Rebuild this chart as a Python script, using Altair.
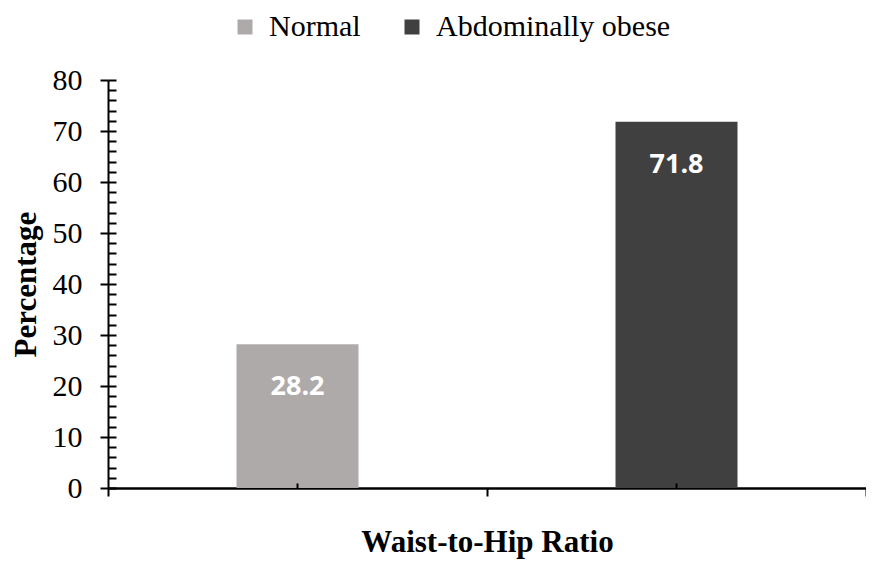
import altair as alt
import pandas as pd

categories = ["Normal", "Abdominally obese"]
values = [28.2, 71.8]
colors = ["#AEAAAA", "#404040"]
y_major = [0, 10, 20, 30, 40, 50, 60, 70, 80]
y_minor = list(range(0, 81, 2))

df = pd.DataFrame({"group": categories, "pct": values, "label": [f"{v:.1f}" for v in values]})

serif = "Liberation Serif"

x_scale = alt.Scale(domain=categories, paddingInner=0, paddingOuter=0)
y_scale = alt.Scale(domain=[0, 80], nice=False, zero=True)

bars = alt.Chart(df).mark_bar(size=122).encode(
    x=alt.X("group:N", scale=x_scale, sort=categories,
            axis=alt.Axis(title="Waist-to-Hip Ratio", orient="bottom", labels=False,
                          tickBand="extent",
                          tickSize=8, tickWidth=2, tickColor="black",
                          domainColor="black", domainWidth=2.5,
                          titleFont=serif, titleFontSize=31, titleFontWeight="bold",
                          titleColor="black", titlePadding=30)),
    y=alt.Y("pct:Q", scale=y_scale,
            axis=alt.Axis(title="Percentage", orient="left", values=y_major, tickSize=8,
                          tickWidth=2,
                          tickColor="black", domainColor="black", domainWidth=2,
                          labelFont=serif, labelFontSize=30, labelColor="black",
                          labelPadding=18, grid=False,
                          titleFont=serif, titleFontSize=31, titleFontWeight="bold",
                          titleColor="black", titlePadding=10)),
    color=alt.Color("group:N", sort=categories,
                    scale=alt.Scale(domain=categories, range=colors),
                    legend=alt.Legend(title=None, orient="none", legendX=122, legendY=-68,
                                      direction="horizontal", symbolType="square",
                                      symbolSize=225, symbolStrokeWidth=0,
                                      labelFont=serif, labelFontSize=30, labelColor="black",
                                      labelLimit=0,
                                      labelOffset=9, columnPadding=36)),
)

labels = alt.Chart(df).mark_text(color="white", font="Open Sans", fontWeight="bold",
                                 fontSize=27, baseline="middle", dy=43).encode(
    x=alt.X("group:N", scale=x_scale, sort=categories,
            axis=alt.Axis(title=None, orient="bottom", labels=False, domain=False,
                          tickBand="center", zindex=2,
                          tickSize=5, tickWidth=2, tickColor="black", offset=-5)),
    y=alt.Y("pct:Q", scale=y_scale,
            axis=alt.Axis(title=None, orient="left", labels=False, domain=False,
                          values=y_minor,
                          tickSize=8, tickWidth=2, tickColor="black", offset=-8, grid=False)),
    text="label:N",
)

chart = alt.layer(bars, labels).resolve_axis(x="independent", y="independent").properties(
    width=758, height=408,
    autosize=alt.AutoSizeParams(type="none"),
    padding={"left": 100, "top": 72, "right": 0, "bottom": 73},
).configure_view(stroke=None)

chart.save("out.html", embed_options={"renderer": "svg", "actions": False})
